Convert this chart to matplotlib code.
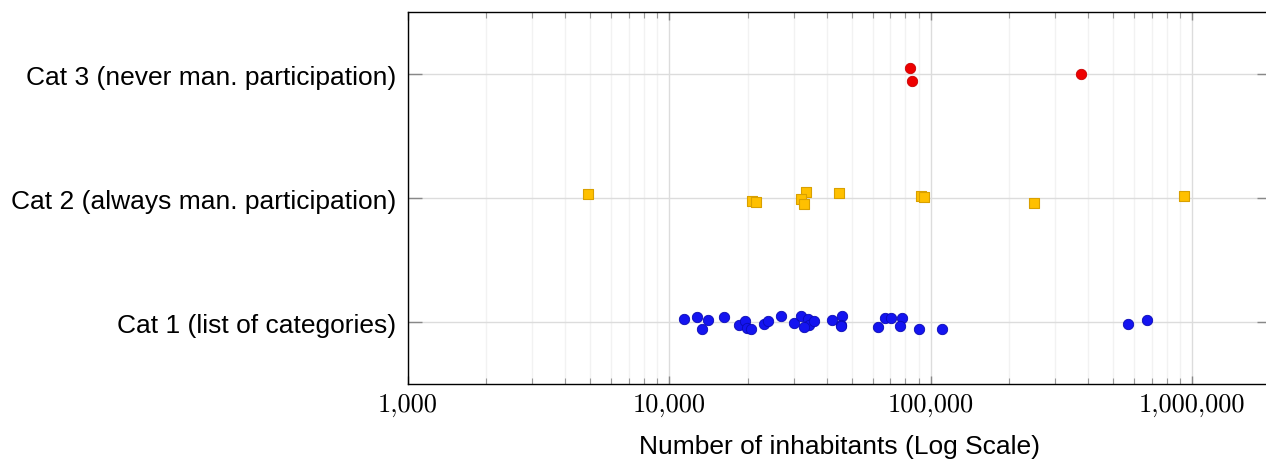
import matplotlib
matplotlib.use("Agg")
import matplotlib.pyplot as plt
from matplotlib.ticker import FuncFormatter, LogLocator, NullFormatter

# values: inhabitants + small vertical jitter
cat1_pop = [11420, 12740, 14040, 13390, 16240, 18440, 19440, 19890, 20500, 23040,
            23930, 26690, 30090, 32000, 33950, 34170, 32770, 35790, 41820, 45670,
            45270, 45390, 63040, 66710, 70310, 77660, 76320, 90450, 110200, 568100,
            671700]
cat1_jit = [0.029, 0.040, 0.019, -0.052, 0.040, -0.019, 0.013, -0.046, -0.052, -0.011,
            0.010, 0.051, -0.008, 0.053, 0.024, -0.019, -0.038, 0.008, 0.019, 0.053,
            -0.019, -0.032, -0.040, 0.032, 0.032, 0.032, -0.030, -0.052, -0.052, -0.011,
            0.019]

cat2_pop = [4905, 20680, 21480, 33350, 32000, 32850, 44600, 91810, 94280, 248300, 932800]
cat2_jit = [0.032, -0.019, -0.032, 0.051, -0.008, -0.048, 0.040, 0.021, 0.008, -0.040, 0.019]

cat3_pop = [83350, 84590, 375600]
cat3_jit = [0.048, -0.054, 0.0]

cat_labels = ["Cat 1 (list of categories)",
              "Cat 2 (always man. participation)",
              "Cat 3 (never man. participation)"]

fig = plt.figure(figsize=(12.66, 4.6), dpi=100)
W, H = 1266, 460
left, right, top, bottom = 407.7, 1270.9, 13.3, 385.3
ax = fig.add_axes([left / W, 1 - bottom / H, (right - left) / W, (bottom - top) / H])

ax.set_xscale("log")
ax.set_xlim(1000, 2e6)
ax.set_ylim(0.5, 3.5)

ax.scatter(cat1_pop, [1 + j for j in cat1_jit], s=56, marker="o",
           facecolor="#1414f0", edgecolor="#0a0ab4", linewidth=0.6, zorder=3)
ax.scatter(cat2_pop, [2 + j for j in cat2_jit], s=58, marker="s",
           facecolor="#ffc000", edgecolor="#d9a000", linewidth=0.8, zorder=3)
ax.scatter(cat3_pop, [3 + j for j in cat3_jit], s=56, marker="o",
           facecolor="#ee0000", edgecolor="#c80000", linewidth=0.6, zorder=3)

ax.set_yticks([1, 2, 3])
ax.set_yticklabels(cat_labels, fontsize=19, family="Liberation Sans")
ax.xaxis.set_major_locator(LogLocator(base=10, numticks=10))
ax.xaxis.set_minor_locator(LogLocator(base=10, subs=range(2, 10), numticks=50))
ax.xaxis.set_major_formatter(FuncFormatter(lambda v, p: f"{int(round(v)):,}"))
ax.xaxis.set_minor_formatter(NullFormatter())
for lab in ax.get_xticklabels():
    lab.set_fontfamily("cmr10")
    lab.set_fontsize(19)

ax.tick_params(axis="x", which="major", direction="in", length=6, width=1,
               color="#888888", top=True, pad=6)
ax.tick_params(axis="x", which="minor", direction="in", length=4, width=0.8,
               color="#999999", top=True)
ax.tick_params(axis="y", which="major", direction="in", length=10, width=1,
               color="#888888", right=True, pad=8)

ax.grid(True, which="major", color="#dcdcdc", linewidth=1)
ax.grid(True, which="minor", axis="x", color="#f2f2f2", linewidth=1)
ax.set_axisbelow(True)
for s in ax.spines.values():
    s.set_linewidth(1)
    s.set_color("black")

ax.set_xlabel("Number of inhabitants (Log Scale)", fontsize=19,
              family="Liberation Sans", labelpad=12.5)

fig.savefig("out.png", dpi=100)
